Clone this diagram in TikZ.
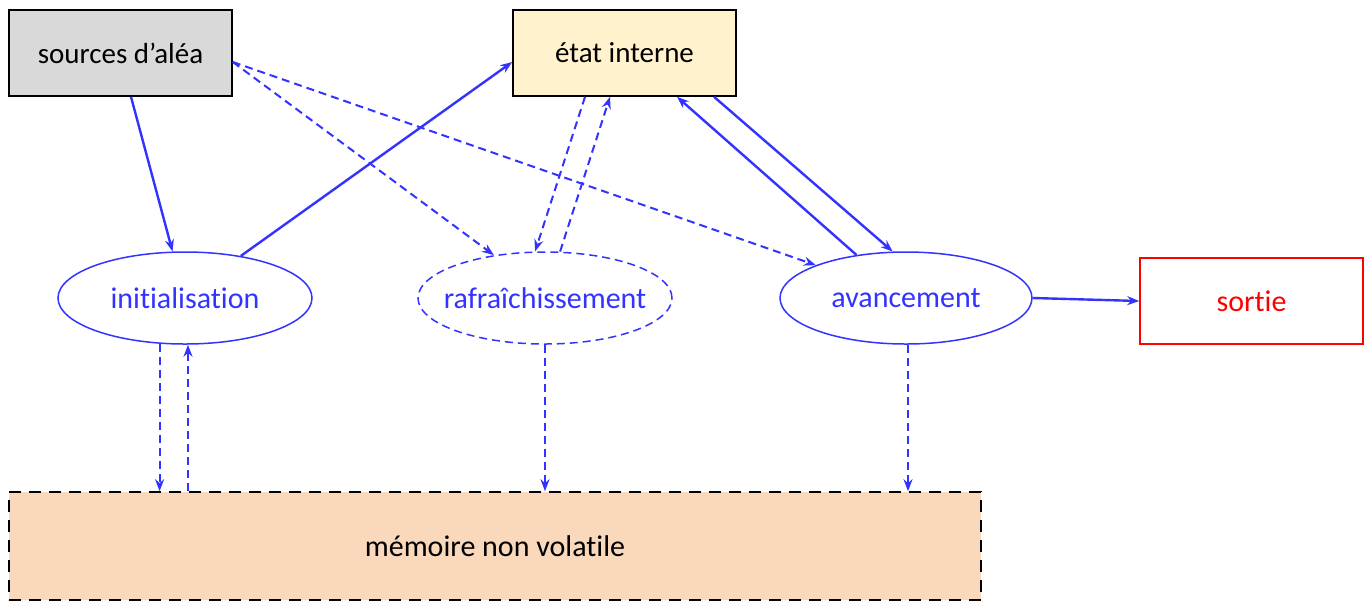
\documentclass[tikz,border=0pt]{standalone}
\usepackage{fontspec}
\setmainfont{Carlito}[Ligatures=NoCommon]
\usetikzlibrary{shapes.geometric,arrows.meta}
\definecolor{flow}{HTML}{3333FF}
\definecolor{srcfill}{HTML}{D9D9D9}
\definecolor{statefill}{HTML}{FFF2CC}
\definecolor{memfill}{HTML}{F9D8BB}
\definecolor{outred}{HTML}{FF0000}
\tikzset{
  box/.style={draw=black, line width=0.8pt, minimum width=111.5pt, minimum height=43pt, inner sep=0pt, font=\fontsize{14.5}{17}\selectfont},
  stage/.style={ellipse, draw=flow, line width=0.75pt, minimum width=127pt, minimum height=46pt, inner sep=0pt, text=flow, font=\fontsize{15}{18}\selectfont},
  tip/.style={-{Stealth[length=6pt,width=4.5pt]}},
  solidflow/.style={tip, draw=flow, line width=1.2pt},
  dashflow/.style={tip, draw=flow, line width=1pt, dash pattern=on 4pt off 2.5pt},
}
\begin{document}
\begin{tikzpicture}[x=0.5pt,y=-0.5pt]
  \fill[white] (0,0) rectangle (1371,601);
  \useasboundingbox (0,0) rectangle (1371,601);

  % boxes
  \node[box, fill=srcfill] (src) at (120.5,53) {sources d’aléa};
  \node[box, fill=statefill] (state) at (624.5,53) {état interne};
  \node[box, draw=outred, text=outred, font=\fontsize{15}{18}\selectfont] (out) at (1251.5,301) {sortie};
  \node[box, fill=memfill, minimum width=486pt, minimum height=54pt, dash pattern=on 6pt off 4pt, font=\fontsize{15}{18}\selectfont] (mem) at (495,546) {mémoire non volatile};

  % processing stages
  \node[stage] (init) at (185,298) {initialisation};
  \node[stage, inner xsep=-7pt, dash pattern=on 4pt off 2.5pt] (refr) at (545,298) {rafraîchissement};
  \node[stage, minimum width=126pt] (adv) at (906,298) {avancement};

  % solid flows
  \draw[solidflow] ([xshift=5.25pt]src.south) -- (init.105);
  \draw[solidflow] (init.37) -- ([yshift=-4.5pt]state.west);
  \draw[solidflow] (adv.139) -- ([xshift=26.25pt]state.south);
  \draw[solidflow] ([xshift=44.75pt]state.south) -- (adv.106);
  \draw[solidflow] (adv.east) -- (out.west);

  % dashed flows
  \draw[dashflow] ([yshift=-4.5pt]src.east) -- (adv.160);
  \draw[dashflow] ([yshift=-4.5pt]src.east) -- (refr.140);
  \draw[dashflow] ([xshift=-19.75pt]state.south) -- (refr.102);
  \draw[dashflow] (refr.72) -- ([xshift=-7.25pt]state.south);
  \draw[dashflow] (init.241) -- (init.241 |- mem.north);
  \draw[dashflow] ([xshift=1.5pt]init.south |- mem.north) -- ([xshift=1.5pt]init.south);
  \draw[dashflow] (refr.south) -- (refr.south |- mem.north);
  \draw[dashflow] ([xshift=1pt]adv.south) -- ([xshift=1pt]adv.south |- mem.north);
\end{tikzpicture}
\end{document}
